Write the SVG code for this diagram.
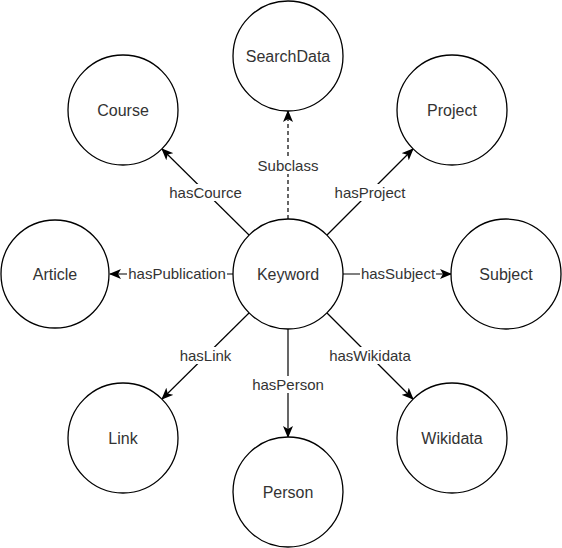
<svg xmlns="http://www.w3.org/2000/svg" width="562" height="548" viewBox="0 0 562 548">
<style>
.node circle{fill:#fff;stroke:#000;stroke-width:1.3}
.node text{font-family:"Liberation Sans",Arial,sans-serif;font-size:16px;fill:#333;text-anchor:middle;dominant-baseline:central}
.edge line{stroke:#000;stroke-width:1.2;fill:none}
.edge .dash{stroke-dasharray:4 3}
.lbl rect{fill:#fff}
.lbl text{font-family:"Liberation Sans",Arial,sans-serif;font-size:15px;fill:#333;text-anchor:middle;dominant-baseline:central}
</style>
<defs>
<marker id="arr" markerUnits="userSpaceOnUse" viewBox="0 0 12 10" refX="11" refY="5" markerWidth="12" markerHeight="10" orient="auto">
<path d="M0,0 L12,5 L0,10 L3,5 z" fill="#000"/>
</marker>
</defs>
<g id="connectors" class="edge">
<line class="dash" x1="288" y1="219" x2="288" y2="111" marker-end="url(#arr)"/>
<line x1="249" y1="235" x2="162" y2="149" marker-end="url(#arr)"/>
<line x1="327" y1="235" x2="413" y2="149" marker-end="url(#arr)"/>
<line x1="233" y1="274" x2="110" y2="274" marker-end="url(#arr)"/>
<line x1="343" y1="274" x2="451" y2="274" marker-end="url(#arr)"/>
<line x1="249" y1="313" x2="162" y2="399" marker-end="url(#arr)"/>
<line x1="327" y1="313" x2="413" y2="399" marker-end="url(#arr)"/>
<line x1="288" y1="329" x2="288" y2="437" marker-end="url(#arr)"/>
<g class="lbl">
<rect x="257" y="157" width="62" height="17"/><text x="288" y="165.5">Subclass</text>
<rect x="168" y="184" width="75" height="17"/><text x="205.5" y="192.5">hasCource</text>
<rect x="333" y="184" width="74" height="17"/><text x="370" y="192.5">hasProject</text>
<rect x="127" y="265" width="100" height="17"/><text x="177" y="273.5">hasPublication</text>
<rect x="360" y="265" width="76" height="17"/><text x="398" y="273.5">hasSubject</text>
<rect x="178" y="347" width="55" height="17"/><text x="205.5" y="355.5">hasLink</text>
<rect x="328" y="347" width="84" height="17"/><text x="370" y="355.5">hasWikidata</text>
<rect x="251" y="376" width="74" height="17"/><text x="288" y="384.5">hasPerson</text>
</g>
</g>
<g id="keyword" class="node"><circle cx="288" cy="274" r="55"/><text x="288" y="274">Keyword</text></g>
<g id="searchdata" class="node"><circle cx="288" cy="56" r="55"/><text x="288" y="56">SearchData</text></g>
<g id="course" class="node"><circle cx="123" cy="110" r="55"/><text x="123" y="110">Course</text></g>
<g id="project" class="node"><circle cx="452" cy="110" r="55"/><text x="452" y="110">Project</text></g>
<g id="article" class="node"><circle cx="55" cy="274" r="54"/><text x="55" y="274">Article</text></g>
<g id="subject" class="node"><circle cx="506" cy="274" r="55"/><text x="506" y="274">Subject</text></g>
<g id="link" class="node"><circle cx="123" cy="438" r="55"/><text x="123" y="438">Link</text></g>
<g id="wikidata" class="node"><circle cx="452" cy="438" r="55"/><text x="452" y="438">Wikidata</text></g>
<g id="person" class="node"><circle cx="288" cy="492" r="55"/><text x="288" y="492">Person</text></g>
</svg>
